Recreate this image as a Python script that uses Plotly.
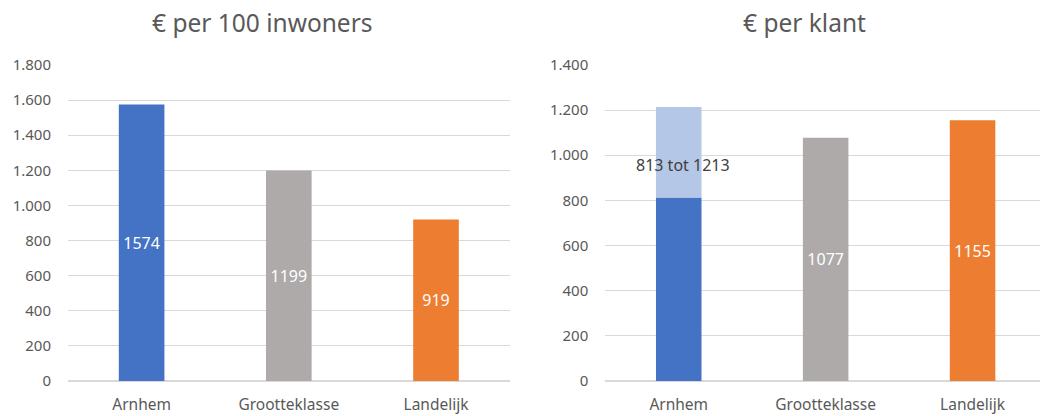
import plotly.graph_objects as go

categories = ["Arnhem", "Grootteklasse", "Landelijk"]
per_100_inw = [1574, 1199, 919]
per_klant = [813, 1077, 1155]
arnhem_range_hi = 1213
left_ticks = [0, 200, 400, 600, 800, 1000, 1200, 1400, 1600, 1800]
right_ticks = [0, 200, 400, 600, 800, 1000, 1200, 1400]
title_left = "€ per 100 inwoners"
title_right = "€ per klant"

c_blue = "#4472C4"
c_lblue = "#B4C7E7"
c_gray = "#AEAAAA"
c_orange = "#ED7D31"
colors = [c_blue, c_gray, c_orange]
txt = "#595959"
grid = "#D9D9D9"
font = "Noto Sans, Open Sans, sans-serif"

fig = go.Figure()

fig.add_trace(go.Bar(
    x=categories, y=per_100_inw, marker_color=colors, marker_line_width=0,
    text=[str(v) for v in per_100_inw], textposition="inside",
    insidetextanchor="middle", textfont=dict(color="white", size=16, family=font),
    width=0.31, xaxis="x", yaxis="y", showlegend=False, hoverinfo="x+y"))

fig.add_trace(go.Bar(
    x=categories, y=per_klant, marker_color=colors, marker_line_width=0,
    text=["", str(per_klant[1]), str(per_klant[2])], textposition="inside",
    insidetextanchor="middle", textfont=dict(color="white", size=16, family=font),
    width=0.31, xaxis="x2", yaxis="y2", showlegend=False, hoverinfo="x+y"))

fig.add_trace(go.Bar(
    x=[categories[0]], y=[arnhem_range_hi - per_klant[0]], base=[per_klant[0]],
    marker_color=c_lblue, marker_line_width=0,
    width=0.31, xaxis="x2", yaxis="y2", showlegend=False, hoverinfo="skip"))

axis_common = dict(showline=False, ticks="outside", ticklen=9, tickcolor="rgba(0,0,0,0)",
                   tickfont=dict(color=txt, size=15.5, family=font), showgrid=False,
                   fixedrange=True, automargin=False)
yaxis_common = dict(showline=False, showgrid=True, gridcolor=grid, gridwidth=1.2,
                    zeroline=True, zerolinecolor=grid, zerolinewidth=1.5,
                    tickfont=dict(color=txt, size=15, family=font), tickformat=",",
                    ticks="outside", ticklen=13, tickcolor="rgba(0,0,0,0)",
                    automargin=False, fixedrange=True)

fig.update_layout(
    width=1040, height=416,
    margin=dict(l=0, r=0, t=0, b=0, autoexpand=False),
    paper_bgcolor="white", plot_bgcolor="white",
    separators=",.",
    barmode="overlay",
    font=dict(family=font, color=txt),
    xaxis=dict(domain=[0.0654, 0.490], anchor="y", range=[-0.5, 2.5], **axis_common),
    yaxis=dict(domain=[0.0841, 0.844], anchor="x", range=[0, 1800],
               tickvals=left_ticks, **yaxis_common),
    xaxis2=dict(domain=[0.582, 1.0], anchor="y2", range=[-0.5, 2.459], **axis_common),
    yaxis2=dict(domain=[0.0841, 0.844], anchor="x2", range=[0, 1400],
                tickvals=right_ticks, **yaxis_common),
    annotations=[
        dict(text=title_left, x=0.252, y=0.947, xref="paper", yref="paper",
             xanchor="center", yanchor="middle",
             showarrow=False, font=dict(size=24.5, color=txt, family=font)),
        dict(text=title_right, x=0.774, y=0.947, xref="paper", yref="paper",
             xanchor="center", yanchor="middle",
             showarrow=False, font=dict(size=24.5, color=txt, family=font)),
        dict(text=f"{per_klant[0]} tot {arnhem_range_hi}", x=categories[0],
             y=(per_klant[0] + arnhem_range_hi) / 2, yshift=-13, xshift=4,
             xref="x2", yref="y2", showarrow=False,
             font=dict(size=16, color="#404040", family=font)),
    ],
)

fig.write_html("out.html", config={"displayModeBar": False},
               post_script="document.body.style.margin='0px';")
